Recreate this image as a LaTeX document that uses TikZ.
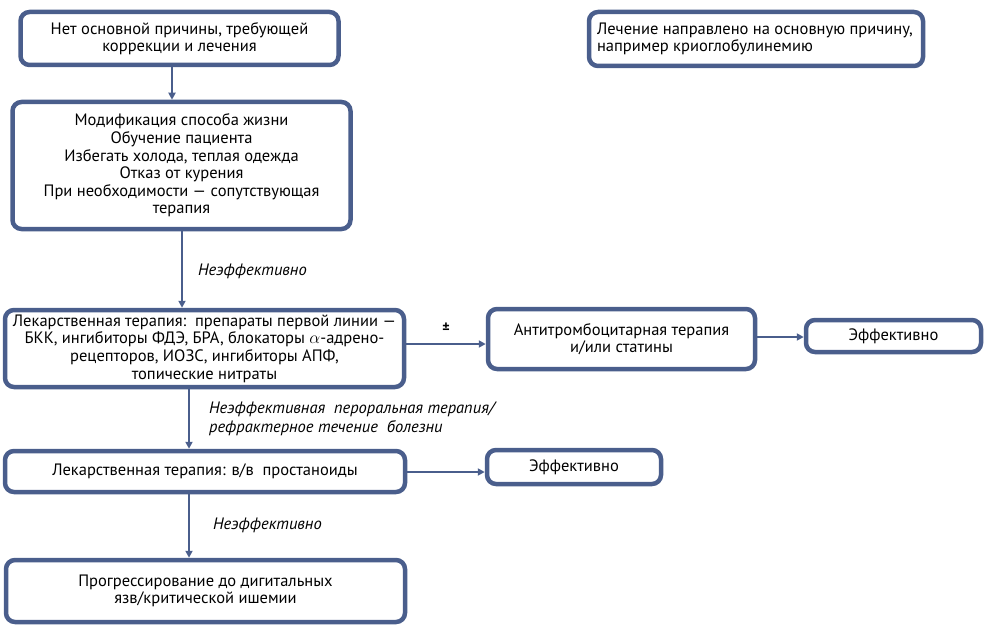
\documentclass[tikz,border=0pt]{standalone}
\usepackage{fontspec}
\setmainfont{PT Sans}
\usetikzlibrary{arrows.meta}
\definecolor{bl}{RGB}{74,94,140}
\tikzset{
  box/.style={draw=bl, line width=4.5pt, rounded corners=9pt, fill=white,
    align=center, inner sep=0pt, font=\fontsize{16.5}{17.6}\selectfont},
  arr/.style={draw=bl, line width=2.4pt, -{Triangle[length=7pt,width=7pt]}},
  lab/.style={font=\fontsize{16.5}{19}\selectfont\itshape, inner sep=0pt},
}
\begin{document}
\begin{tikzpicture}[x=1pt,y=-1pt]
\useasboundingbox (0,0) rectangle (986,634);
\node[box, minimum width=318pt, minimum height=53pt] (A) at (179.5,38.5)
  {Нет основной причины, требующей\\коррекции и лечения};
\node[box, minimum width=334pt, minimum height=54pt, align=left] (T) at (756,39)
  {\makebox[318pt][l]{Лечение направлено на основную причину,}\\\makebox[318pt][l]{например криоглобулинемию}};
\node[box, minimum width=338pt, minimum height=127pt] (B) at (181.5,165.5)
  {\raisebox{0pt}[12pt][0pt]{}Модификация способа жизни\\Обучение пациента\\Избегать холода, теплая одежда\\Отказ от курения\\При необходимости — сопутствующая\\терапия};
\node[box, minimum width=399pt, minimum height=77pt] (C) at (204.5,348.5)
  {Лекарственная терапия:~~препараты первой линии —\\БКК, ингибиторы ФДЭ, БРА, блокаторы $\alpha$-адрено-\\рецепторов, ИОЗС, ингибиторы АПФ,\\топические нитраты};
\node[box, minimum width=267pt, minimum height=60pt] (D) at (621.5,339)
  {Антитромбоцитарная терапия\\и/или статины};
\node[box, minimum width=175pt, minimum height=32pt] (E) at (893.5,336)
  {Эффективно};
\node[box, minimum width=400pt, minimum height=41pt] (F) at (205,471.5)
  {Лекарственная терапия: в/в~~простаноиды};
\node[box, minimum width=174pt, minimum height=34pt] (G) at (574,467)
  {Эффективно};
\node[box, minimum width=399pt, minimum height=62pt] (H) at (205.5,591)
  {Прогрессирование до дигитальных\\язв/критической ишемии};
\coordinate (x1) at (172,0);
\coordinate (x2) at (182,0);
\coordinate (x3) at (189,0);
\coordinate (y1) at (0,344);
\coordinate (y2) at (0,337);
\coordinate (y3) at (0,472);
\draw[arr] (A.south -| x1) -- (B.north -| x1);
\draw[arr] (B.south -| x2) -- (C.north -| x2);
\draw[arr] (C.south -| x3) -- (F.north -| x3);
\draw[arr] (F.south -| x3) -- (H.north -| x3);
\draw[arr] (C.east |- y1) -- (D.west |- y1);
\draw[arr] (D.east |- y2) -- (E.west |- y2);
\draw[arr] (F.east |- y3) -- (G.west |- y3);
\node[lab, anchor=west] (L1) at (198,271) {Неэффективно};
\node[lab, anchor=west, align=left] (L2) at (209,419) {Неэффективная~~пероральная терапия/\\рефрактерное течение~~болезни};
\node[lab, anchor=west] (L3) at (213,525) {Неэффективно};
\node[font=\fontsize{14}{15}\selectfont\bfseries, inner sep=0pt] (pm) at (446,328) {±};
\end{tikzpicture}
\end{document}
